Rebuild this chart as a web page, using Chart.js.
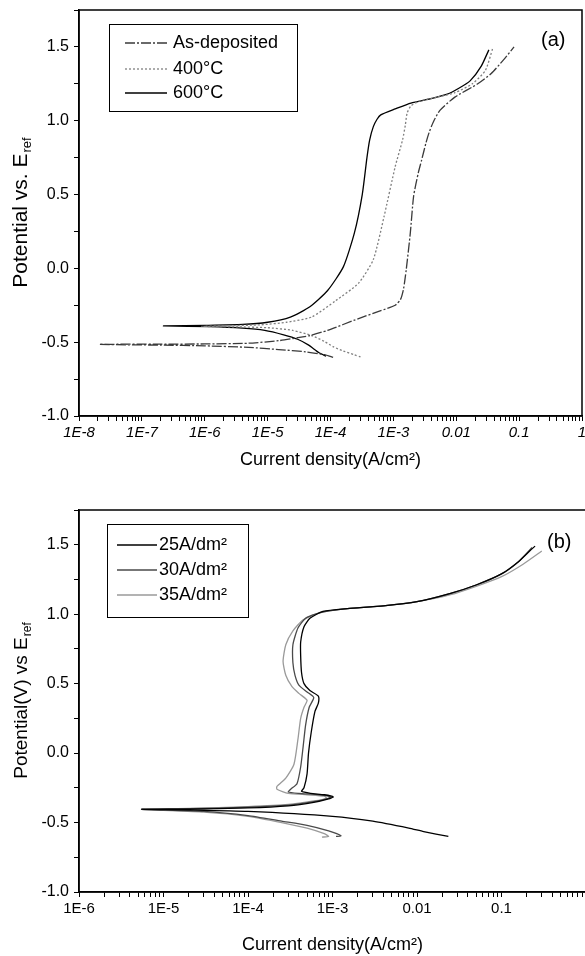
<!DOCTYPE html>
<html>
<head>
<meta charset="utf-8">
<script src="https://cdn.jsdelivr.net/npm/chart.js@4.4.1/dist/chart.umd.min.js"></script>
<style>
body { margin: 0; background: #fff; }
#caixaA { position: absolute; left: 0; top: 0; width: 585px; height: 480px; overflow: hidden; }
#caixaB { position: absolute; left: 0; top: 480px; width: 585px; height: 476px; overflow: hidden; }
</style>
</head>
<body>
<div id="caixaA"><canvas id="graficoA" width="585" height="480"></canvas></div>
<div id="caixaB"><canvas id="graficoB" width="600" height="476"></canvas></div>
<script>
// ---- eixos ----
const decadasA = [1e-8, 1e-7, 1e-6, 1e-5, 1e-4, 1e-3, 0.01, 0.1, 1];
const rotulosA = ['1E-8', '1E-7', '1E-6', '1E-5', '1E-4', '1E-3', '0.01', '0.1', '1'];
const decadasB = [1e-6, 1e-5, 1e-4, 1e-3, 0.01, 0.1, 1];
const rotulosB = ['1E-6', '1E-5', '1E-4', '1E-3', '0.01', '0.1', ''];
const ticksY = [-1.0, -0.5, 0.0, 0.5, 1.0, 1.5];
const rotulosY = ['-1.0', '-0.5', '0.0', '0.5', '1.0', '1.5'];

// ---- grafico (a) ----
const legendaA = ['As-deposited', '400\u00B0C', '600\u00B0C'];
const asDepX = [1.1e-4, 8e-5, 4e-5, 1.5e-5, 5e-6, 1e-6, 2e-7, 2.1e-8, 2e-7, 1e-6, 5e-6, 1.5e-5, 3e-5, 4.7e-5, 9e-5, 2.8e-4, 6e-4, 1.07e-3, 1.3e-3, 1.45e-3, 1.6e-3, 1.86e-3, 2.1e-3, 2.5e-3, 2.8e-3, 3.3e-3, 3.7e-3, 4.3e-3, 5.5e-3, 9.5e-3, 2.2e-2, 3.6e-2, 5.6e-2, 8.3e-2];
const asDepY = [-0.603, -0.585, -0.565, -0.55, -0.535, -0.525, -0.52, -0.515, -0.513, -0.512, -0.507, -0.49, -0.47, -0.455, -0.42, -0.34, -0.29, -0.25, -0.21, -0.14, -0.01, 0.24, 0.49, 0.65, 0.73, 0.85, 0.92, 0.99, 1.07, 1.16, 1.25, 1.32, 1.41, 1.5];
const t400X = [3e-4, 2.4e-4, 1.6e-4, 1.1e-4, 8e-5, 5e-5, 2.5e-5, 1e-5, 3e-6, 9e-7, 2e-6, 8e-6, 2e-5, 5e-5, 1.2e-4, 2.8e-4, 4.8e-4, 7.1e-4, 1.07e-3, 1.4e-3, 1.55e-3, 1.65e-3, 1.9e-3, 2.5e-3, 5e-3, 9.5e-3, 1.8e-2, 2.9e-2, 3.8e-2];
const t400Y = [-0.60, -0.585, -0.56, -0.53, -0.495, -0.455, -0.42, -0.402, -0.396, -0.393, -0.39, -0.382, -0.365, -0.33, -0.22, -0.10, 0.06, 0.35, 0.69, 0.87, 0.97, 1.05, 1.10, 1.13, 1.16, 1.19, 1.25, 1.34, 1.49];
const t600X = [8.5e-5, 6.5e-5, 4.5e-5, 3e-5, 1.8e-5, 9e-6, 4e-6, 1.2e-6, 2.2e-7, 1e-6, 4e-6, 1e-5, 2.3e-5, 4.7e-5, 9e-5, 1.6e-4, 2.4e-4, 3.2e-4, 3.8e-4, 4.2e-4, 4.8e-4, 5.5e-4, 6.3e-4, 1.07e-3, 1.9e-3, 4e-3, 7.2e-3, 1.1e-2, 1.66e-2, 2.5e-2, 3.3e-2];
const t600Y = [-0.595, -0.57, -0.52, -0.48, -0.45, -0.42, -0.405, -0.395, -0.39, -0.386, -0.38, -0.365, -0.33, -0.26, -0.15, 0.01, 0.24, 0.5, 0.75, 0.87, 0.96, 1.01, 1.04, 1.08, 1.12, 1.15, 1.18, 1.22, 1.27, 1.37, 1.48];

// ---- grafico (b) ----
const legendaB = ['25A/dm\u00B2', '30A/dm\u00B2', '35A/dm\u00B2'];
const d25X = [2.35e-2, 1.2e-2, 8e-3, 3e-3, 1e-3, 1e-4, 2e-5, 5.5e-6, 2e-5, 1e-4, 3e-4, 6e-4, 9e-4, 1.02e-3, 8e-4, 5.5e-4, 4.3e-4, 4.6e-4, 5e-4, 5.2e-4, 5.6e-4, 6.2e-4, 6.8e-4, 6.8e-4, 5.4e-4, 4.6e-4, 4.3e-4, 4.2e-4, 4.2e-4, 4.6e-4, 5.4e-4, 7.7e-4, 1.5e-3, 4e-3, 1e-2, 2.5e-2, 5e-2, 1e-1, 1.6e-1, 2.2e-1, 2.5e-1];
const d25Y = [-0.60, -0.565, -0.54, -0.49, -0.455, -0.42, -0.41, -0.405, -0.403, -0.395, -0.38, -0.355, -0.33, -0.315, -0.30, -0.29, -0.275, -0.25, -0.15, 0.0, 0.15, 0.30, 0.36, 0.41, 0.45, 0.50, 0.58, 0.70, 0.80, 0.91, 0.97, 1.02, 1.04, 1.06, 1.09, 1.15, 1.21, 1.29, 1.38, 1.46, 1.49];
const d30X = [1.1e-3, 1.26e-3, 9e-4, 5e-4, 2.5e-4, 1e-4, 3e-5, 5.5e-6, 2e-5, 1e-4, 3e-4, 6e-4, 8.5e-4, 9.5e-4, 7e-4, 4e-4, 3e-4, 3.2e-4, 3.8e-4, 4.2e-4, 4.5e-4, 4.8e-4, 5.3e-4, 6e-4, 5e-4, 4e-4, 3.6e-4, 3.4e-4, 3.4e-4, 3.9e-4, 4.8e-4, 7e-4, 1.5e-3, 4e-3, 1e-2, 2.5e-2, 5e-2, 1e-1, 1.6e-1, 2.3e-1];
const d30Y = [-0.60, -0.595, -0.56, -0.52, -0.49, -0.45, -0.42, -0.405, -0.40, -0.39, -0.375, -0.35, -0.33, -0.315, -0.30, -0.29, -0.28, -0.26, -0.22, -0.10, 0.05, 0.20, 0.33, 0.40, 0.44, 0.49, 0.56, 0.65, 0.78, 0.90, 0.97, 1.01, 1.04, 1.06, 1.09, 1.15, 1.21, 1.29, 1.38, 1.48];
const d35X = [7.5e-4, 9e-4, 8e-4, 5e-4, 2.5e-4, 1e-4, 3e-5, 5.5e-6, 2e-5, 1e-4, 3e-4, 6e-4, 8.5e-4, 8e-4, 5e-4, 3e-4, 2.2e-4, 2.2e-4, 2.8e-4, 3.5e-4, 3.9e-4, 4.2e-4, 4.6e-4, 5e-4, 4e-4, 3.3e-4, 2.8e-4, 2.6e-4, 2.8e-4, 3.4e-4, 4.5e-4, 7e-4, 1.5e-3, 4e-3, 1e-2, 2.5e-2, 5e-2, 1e-1, 1.8e-1, 3e-1];
const d35Y = [-0.605, -0.60, -0.58, -0.54, -0.50, -0.455, -0.425, -0.405, -0.398, -0.385, -0.37, -0.345, -0.325, -0.31, -0.30, -0.29, -0.26, -0.24, -0.18, -0.08, 0.10, 0.25, 0.33, 0.38, 0.43, 0.48, 0.56, 0.66, 0.78, 0.88, 0.96, 1.01, 1.04, 1.06, 1.09, 1.14, 1.20, 1.27, 1.36, 1.455];

const fonte = '"Liberation Sans", Arial, sans-serif';

function juntar(xs, ys) {
    return xs.map(function (x, i) { return { x: x, y: ys[i] }; });
}

function ticksLog(decadas) {
    let lista = [];
    decadas.forEach(function (d, i) {
        lista.push({ value: d, major: true });
        if (i < decadas.length - 1) {
            for (let k = 2; k < 10; k++) lista.push({ value: d * k });
        }
    });
    return lista;
}

function rotuloDe(valor, valores, rotulos) {
    for (let i = 0; i < valores.length; i++) {
        if (Math.abs(valor - valores[i]) < 1e-9 * Math.max(1, Math.abs(valores[i])) ||
            (valor > 0 && valores[i] > 0 && Math.abs(Math.log10(valor) - Math.log10(valores[i])) < 1e-6)) {
            return rotulos[i];
        }
    }
    return '';
}

// moldura, legenda, rotulo (a)/(b) e titulo do eixo y com subscrito
function criarMoldura(cfg) {
    return {
        id: 'moldura',
        afterDraw(chart) {
            const ctx = chart.ctx;
            const a = chart.chartArea;
            ctx.save();
            ctx.strokeStyle = '#000';
            ctx.lineWidth = 1.5;
            ctx.strokeRect(a.left, a.top, a.right - a.left, a.bottom - a.top);

            const lg = cfg.legenda;
            ctx.lineWidth = 1;
            ctx.strokeRect(lg.x + 0.5, lg.y + 0.5, lg.w, lg.h);
            ctx.font = '18px ' + fonte;
            ctx.textBaseline = 'middle';
            chart.data.datasets.forEach(function (ds, i) {
                const yy = lg.y + lg.linhas[i];
                ctx.strokeStyle = ds.borderColor;
                ctx.lineWidth = ds.borderWidth;
                ctx.setLineDash(ds.borderDash || []);
                ctx.beginPath();
                ctx.moveTo(lg.x + lg.l1, yy);
                ctx.lineTo(lg.x + lg.l2, yy);
                ctx.stroke();
                ctx.setLineDash([]);
                ctx.fillStyle = '#000';
                ctx.fillText(ds.label, lg.x + lg.tx, yy);
            });

            ctx.font = '20px ' + fonte;
            ctx.fillStyle = '#000';
            ctx.fillText(cfg.marca.texto, cfg.marca.x, cfg.marca.y);

            // titulo y
            const t = cfg.tituloY;
            ctx.translate(t.x, (a.top + a.bottom) / 2 + t.dy);
            ctx.rotate(-Math.PI / 2);
            ctx.font = t.tam + 'px ' + fonte;
            const w1 = ctx.measureText(t.texto).width;
            ctx.font = Math.round(t.tam * 0.62) + 'px ' + fonte;
            const w2 = ctx.measureText(t.sub).width;
            const x0 = -(w1 + w2) / 2;
            ctx.textBaseline = 'alphabetic';
            ctx.font = t.tam + 'px ' + fonte;
            ctx.fillText(t.texto, x0, 7);
            ctx.font = Math.round(t.tam * 0.62) + 'px ' + fonte;
            ctx.fillText(t.sub, x0 + w1 + 1, 11);
            ctx.restore();
        }
    };
}

function montarOpcoes(decadas, rotulos, italico, tituloPad, padding) {
    return {
        responsive: false,
        animation: false,
        devicePixelRatio: 1,
        layout: { padding: padding },
        plugins: {
            legend: { display: false },
            tooltip: { enabled: false }
        },
        scales: {
            x: {
                type: 'logarithmic',
                min: decadas[0],
                max: decadas[decadas.length - 1],
                afterBuildTicks: function (eixo) { eixo.ticks = ticksLog(decadas); },
                afterFit: function (eixo) { eixo.height = 64; eixo.paddingLeft = 0; eixo.paddingRight = 0; },
                border: { color: '#000', width: 1.5 },
                grid: { drawOnChartArea: false, drawTicks: true, tickLength: 5, color: '#000' },
                ticks: {
                    autoSkip: false,
                    maxRotation: 0,
                    padding: 3,
                    color: '#000',
                    font: { family: fonte, size: 15, style: italico ? 'italic' : 'normal' },
                    callback: function (valor) { return rotuloDe(valor, decadas, rotulos); }
                },
                title: {
                    display: true,
                    text: 'Current density(A/cm\u00B2)',
                    color: '#000',
                    font: { family: fonte, size: 18 },
                    padding: { top: 0, bottom: tituloPad }
                }
            },
            y: {
                type: 'linear',
                min: -1.0,
                max: 1.75,
                afterFit: function (eixo) { eixo.width = 79; eixo.paddingTop = 0; eixo.paddingBottom = 0; },
                border: { color: '#000', width: 1.5 },
                grid: { drawOnChartArea: false, drawTicks: true, tickLength: 5, color: '#000' },
                ticks: {
                    stepSize: 0.25,
                    padding: 5,
                    color: '#000',
                    font: { family: fonte, size: 16 },
                    callback: function (valor) { return rotuloDe(valor, ticksY, rotulosY); }
                }
            }
        }
    };
}

function serie(rotulo, xs, ys, cor, traco) {
    return {
        label: rotulo,
        data: juntar(xs, ys),
        showLine: true,
        borderColor: cor,
        borderWidth: 1.3,
        borderDash: traco,
        pointRadius: 0,
        tension: 0.2,
        fill: false
    };
}

new Chart(document.getElementById('graficoA'), {
    type: 'scatter',
    data: {
        datasets: [
            serie(legendaA[0], asDepX, asDepY, '#3a3a3a', [10, 2, 2, 2]),
            serie(legendaA[1], t400X, t400Y, '#808080', [2, 2]),
            serie(legendaA[2], t600X, t600Y, '#000', [])
        ]
    },
    options: montarOpcoes(decadasA, rotulosA, true, 9, { top: 10, right: 3, bottom: 0, left: 0 }),
    plugins: [criarMoldura({
        legenda: { x: 109, y: 24, w: 188, h: 87, linhas: [19, 45, 69], l1: 16, l2: 58, tx: 64 },
        marca: { texto: '(a)', x: 541, y: 40 },
        tituloY: { x: 20, dy: 0, tam: 21, texto: 'Potential vs. E', sub: 'ref' }
    })]
});

new Chart(document.getElementById('graficoB'), {
    type: 'scatter',
    data: {
        datasets: [
            serie(legendaB[0], d25X, d25Y, '#000', []),
            serie(legendaB[1], d30X, d30Y, '#4a4a4a', []),
            serie(legendaB[2], d35X, d35Y, '#9a9a9a', [])
        ]
    },
    options: montarOpcoes(decadasB, rotulosB, false, 0, { top: 30, right: 14, bottom: 0, left: 0 }),
    plugins: [criarMoldura({
        legenda: { x: 107, y: 44, w: 141, h: 93, linhas: [21, 46, 71], l1: 10, l2: 50, tx: 52 },
        marca: { texto: '(b)', x: 547, y: 62 },
        tituloY: { x: 20, dy: 0, tam: 19, texto: 'Potential(V) vs E', sub: 'ref' }
    })]
});
</script>
</body>
</html>
